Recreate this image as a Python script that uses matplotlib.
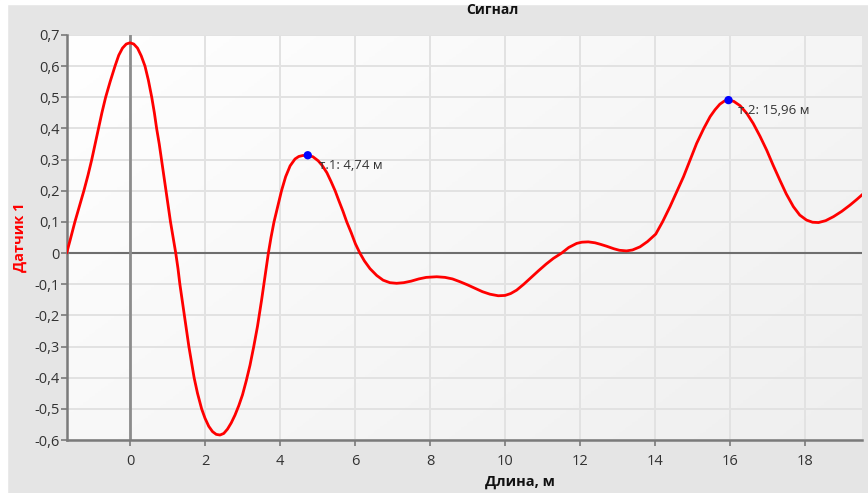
import numpy as np
import matplotlib
matplotlib.use("Agg")
import matplotlib.pyplot as plt
from matplotlib.patches import Rectangle

plt.rcParams['font.family'] = ['Open Sans', 'DejaVu Sans']

# signal readings (length in m, sensor value)
length_m = [-1.69, -1.6, -1.47, -1.35, -1.23, -1.12, -1.02, -0.93, -0.84, -0.75, -0.65, -0.53,
            -0.4, -0.3, -0.2, -0.1, 0.0, 0.1, 0.2, 0.3, 0.4, 0.49, 0.58, 0.65,
            0.71, 0.78, 0.84, 0.9, 0.96, 1.02, 1.08, 1.15, 1.22, 1.28, 1.33, 1.39,
            1.45, 1.51, 1.57, 1.64, 1.71, 1.8, 1.91, 2.0, 2.1, 2.2, 2.3, 2.4,
            2.5, 2.6, 2.7, 2.8, 2.9, 3.0, 3.1, 3.2, 3.3, 3.4, 3.51, 3.6,
            3.69, 3.76, 3.84, 3.94, 4.04, 4.15, 4.27, 4.4, 4.5, 4.6, 4.74, 4.88,
            5.02, 5.12, 5.25, 5.36, 5.47, 5.57, 5.68, 5.78, 5.9, 6.01, 6.13, 6.25,
            6.4, 6.58, 6.75, 6.93, 7.11, 7.3, 7.5, 7.7, 7.9, 8.18, 8.4, 8.6,
            8.8, 9.0, 9.2, 9.4, 9.6, 9.82, 10.0, 10.15, 10.31, 10.5, 10.7, 10.9,
            11.1, 11.29, 11.51, 11.7, 11.91, 12.05, 12.22, 12.4, 12.55, 12.71, 12.9, 13.05,
            13.24, 13.4, 13.6, 13.8, 14.02, 14.2, 14.4, 14.58, 14.76, 14.94, 15.11, 15.3,
            15.47, 15.6, 15.73, 15.85, 15.96, 16.1, 16.27, 16.45, 16.62, 16.8, 16.98, 17.15,
            17.33, 17.5, 17.69, 17.86, 18.04, 18.2, 18.36, 18.55, 18.76, 18.98, 19.2, 19.38, 19.55]
signal = [0.0, 0.04, 0.1, 0.15, 0.2, 0.25, 0.3, 0.35, 0.4, 0.45, 0.5, 0.55,
          0.6, 0.635, 0.658, 0.671, 0.675, 0.671, 0.658, 0.633, 0.6, 0.555, 0.5, 0.45,
          0.4, 0.35, 0.3, 0.25, 0.2, 0.15, 0.1, 0.05, 0.0, -0.05, -0.1, -0.15,
          -0.2, -0.25, -0.3, -0.35, -0.4, -0.45, -0.5, -0.53, -0.556, -0.573, -0.582, -0.584,
          -0.579, -0.565, -0.545, -0.52, -0.49, -0.455, -0.41, -0.36, -0.3, -0.235, -0.15, -0.075,
          0.0, 0.05, 0.1, 0.15, 0.2, 0.245, 0.28, 0.302, 0.31, 0.313, 0.314, 0.309,
          0.296, 0.282, 0.258, 0.23, 0.2, 0.168, 0.134, 0.1, 0.065, 0.03, 0.0, -0.025,
          -0.05, -0.072, -0.087, -0.095, -0.097, -0.095, -0.09, -0.083, -0.078, -0.076, -0.078, -0.083,
          -0.092, -0.102, -0.113, -0.124, -0.132, -0.137, -0.136, -0.13, -0.119, -0.1, -0.078, -0.056,
          -0.035, -0.017, 0.0, 0.018, 0.031, 0.035, 0.036, 0.033, 0.028, 0.022, 0.014, 0.009,
          0.007, 0.01, 0.02, 0.037, 0.061, 0.1, 0.149, 0.197, 0.245, 0.3, 0.352, 0.4,
          0.438, 0.46, 0.478, 0.488, 0.491, 0.487, 0.473, 0.448, 0.416, 0.375, 0.33, 0.282,
          0.234, 0.19, 0.149, 0.122, 0.106, 0.099, 0.098, 0.104, 0.117, 0.134, 0.154, 0.172, 0.19]

marker_x = [4.74, 15.96]
marker_y = [0.314, 0.491]
marker_labels = ["т.1: 4,74 м", "т.2: 15,96 м"]

x_ticks = [0, 2, 4, 6, 8, 10, 12, 14, 16, 18]
y_ticks = [-0.6, -0.5, -0.4, -0.3, -0.2, -0.1, 0.0, 0.1, 0.2, 0.3, 0.4, 0.5, 0.6, 0.7]

W, H = 868, 493
fig = plt.figure(figsize=(W / 100, H / 100), dpi=100, facecolor='#e5e5e5')
# white strips at outer edges
fig.patches.append(Rectangle((0, 0), 7 / W, 1, transform=fig.transFigure, color='white', zorder=0))
fig.patches.append(Rectangle((0, 1 - 3.5 / H), 1, 3.5 / H, transform=fig.transFigure, color='white', zorder=0))

l, r, t, b = 67, 862, 35, 440
ax = fig.add_axes([l / W, 1 - b / H, (r - l) / W, (b - t) / H])
ax.set_xlim(-1.68, 19.52)
ax.set_ylim(-0.6, 0.7)

# gradient background
grad = np.linspace(0, 1, 256)
gx, gy = np.meshgrid(grad, grad)
g = 0.6 * gx + 0.4 * gy
cm = matplotlib.colors.LinearSegmentedColormap.from_list('bg', ['#ffffff', '#efefef'])
ax.imshow(g, extent=[0, 1, 0, 1], transform=ax.transAxes, cmap=cm, aspect='auto', zorder=0, origin='upper')

ax.set_xticks(x_ticks)
ax.set_yticks(y_ticks)
ax.set_xticklabels([str(v) for v in x_ticks])
ax.set_yticklabels([('%.1f' % v).replace('.', ',') if v != 0 else '0' for v in y_ticks])
ax.grid(True, color='#e2e2e2', linewidth=1.4, zorder=1)
ax.set_axisbelow(True)
ax.axhline(0, color='#6e6e6e', linewidth=1.5, zorder=2)
ax.axvline(0, color='#8c8c8c', linewidth=2.0, zorder=2)

for s in ['top', 'right']:
    ax.spines[s].set_visible(False)
for s in ['left', 'bottom']:
    ax.spines[s].set_color('#7a7a7a')
    ax.spines[s].set_linewidth(1.8)
ax.tick_params(axis='both', colors='#7a7a7a', length=4, width=1.2, labelcolor='#333333', labelsize=10.5)
ax.tick_params(axis='x', pad=6)
ax.tick_params(axis='y', pad=1)

ax.plot(length_m, signal, color='#ff0000', linewidth=2.0, zorder=3, solid_joinstyle='round',
        solid_capstyle='round', antialiased=True)
ax.scatter(marker_x, marker_y, s=36, color='#0000ff', zorder=4, edgecolors='none')
offsets = [(0.3, -0.032), (0.24, -0.032)]
for mx, my, lab, (dx, dy) in zip(marker_x, marker_y, marker_labels, offsets):
    ax.text(mx + dx, my + dy, lab, fontsize=9.5, color='#333333', va='center', ha='left', zorder=5)

fig.text(492 / W, 1 - 10 / H, 'Сигнал', fontsize=10, fontweight='bold', ha='center', va='center', color='#111111')
fig.text(20 / W, 1 - 237 / H, 'Датчик 1', fontsize=10.5, fontweight='bold', color='#ff0000', rotation=90, ha='center', va='center')
fig.text(520 / W, 1 - 482 / H, 'Длина, м', fontsize=10.5, fontweight='bold', color='#111111', ha='center', va='center')

fig.savefig('out.png', dpi=100, facecolor=fig.get_facecolor())
